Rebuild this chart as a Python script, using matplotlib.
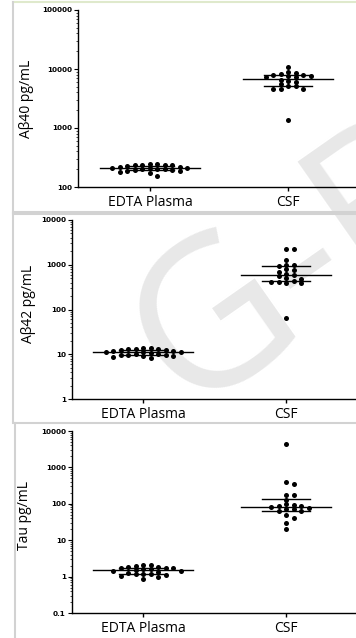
import matplotlib
matplotlib.use('Agg')
import matplotlib.pyplot as plt
from matplotlib.lines import Line2D
import numpy as np

plt.rcParams['font.family'] = ['Open Sans', 'DejaVu Sans']

# 数据
groups = ['EDTA Plasma', 'CSF']

ab40_plasma = [245, 242, 240, 238, 235, 232, 228, 222, 215, 212, 210,
               208, 205, 200, 198, 195, 192, 190, 188, 180, 172, 155]
ab40_csf = [10800, 8900, 8600, 8200, 8000, 7900, 7700, 7500, 7300, 7200,
            6500, 6300, 6100, 5500, 5200, 5100, 4600, 4500, 4500, 1350]

ab42_plasma = [13.8, 13.5, 13.2, 13.0, 12.8, 12.5, 12.2, 12.0, 11.8, 11.5, 11.2,
               11.0, 10.6, 10.3, 10.0, 9.8, 9.6, 9.5, 9.3, 9.1, 8.9, 8.1]
ab42_csf = [2300, 2200, 1250, 1000, 970, 920, 800, 760, 680, 620,
            580, 550, 500, 480, 430, 420, 410, 400, 390, 66]

tau_plasma = [2.1, 2.1, 2.0, 1.8, 1.8, 1.75, 1.7, 1.7, 1.6, 1.6, 1.5,
              1.45, 1.4, 1.3, 1.25, 1.2, 1.2, 1.15, 1.1, 1.05, 1.0, 0.87]
tau_csf = [4300, 390, 340, 180, 170, 125, 97, 95, 88, 86,
           82, 78, 74, 72, 65, 62, 48, 41, 29, 20]

ylabels = ['A\u03b240 pg/mL', 'A\u03b242 pg/mL', 'Tau pg/mL']
yticks = [[100, 1000, 10000, 100000],
          [1, 10, 100, 1000, 10000],
          [0.1, 1, 10, 100, 1000, 10000]]
yticklabels = [['100', '1000', '10000', '100000'],
               ['1', '10', '100', '1000', '10000'],
               ['0.1', '1', '10', '100', '1000', '10000']]
panels = [(ab40_plasma, ab40_csf), (ab42_plasma, ab42_csf), (tau_plasma, tau_csf)]

W, H = 356, 638
fig = plt.figure(figsize=(W / 100, H / 100), dpi=100)

# 坐标轴位置（像素）: 左, 上, 下
boxes = [(78, 10, 187), (72, 220, 399), (72, 431, 613)]
xlims = [(-0.52, 1.49), (-0.5, 1.49), (-0.5, 1.49)]
label_pos = [(-0.158, 0.5), (-0.127, 0.53), (-0.141, 0.533)]


def swarm_offsets(ypix, dx, dy):
    # 类似 GraphPad 的散点排列（像素坐标）
    order = np.argsort(ypix)[::-1]
    placed = []
    offs = np.zeros(len(ypix))
    for i in order:
        y = ypix[i]
        best = None
        for k in range(0, 600):
            for s in (1, -1):
                x = s * k * 0.5
                if all(abs(x - px) >= dx or abs(y - py) >= dy for px, py in placed):
                    best = x
                    break
            if best is not None:
                break
        offs[i] = best
        placed.append((best, y))
    return offs


for p, (plasma, csf) in enumerate(panels):
    left, top, bottom = boxes[p]
    ax = fig.add_axes([left / W, 1 - bottom / H, (W - left) / W, (bottom - top) / H])
    ax.set_facecolor('none')
    ax.set_yscale('log')
    ax.set_ylim(yticks[p][0], yticks[p][-1])
    ax.set_xlim(*xlims[p])
    for s in ['top', 'right']:
        ax.spines[s].set_visible(False)
    for s in ['left', 'bottom']:
        ax.spines[s].set_linewidth(1.0)

    px_per_unit = ax.transData.transform((1, 1))[0] - ax.transData.transform((0, 1))[0]
    for g, vals in enumerate([plasma, csf]):
        vals = np.array(vals, dtype=float)
        ypix = np.array([ax.transData.transform((0, v))[1] for v in vals])
        offs = swarm_offsets(ypix, 7.5, 4.0)
        ax.scatter(g + offs / px_per_unit, vals, s=13, color='black', zorder=3, linewidths=0)
        med = np.median(vals)
        q1, q3 = np.percentile(vals, [25, 75])
        hw = (50 if g == 0 else 45) / px_per_unit
        cw = 24 / px_per_unit
        ax.plot([g - hw, g + hw], [med, med], color='black', lw=1.0, zorder=4)
        ax.plot([g - cw, g + cw], [q1, q1], color='black', lw=1.0, zorder=4)
        ax.plot([g - cw, g + cw], [q3, q3], color='black', lw=1.0, zorder=4)
        ax.plot([g, g], [q1, q3], color='black', lw=1.0, zorder=4)

    ax.set_xticks([0, 1])
    ax.set_xticklabels(groups, fontsize=10)
    ax.tick_params(axis='x', length=3, width=1, pad=3)
    ax.set_yticks(yticks[p])
    ax.set_yticklabels(yticklabels[p], fontsize=5.2, fontweight='bold', family='DejaVu Sans')
    ax.tick_params(axis='y', which='major', length=3, width=0.8, pad=1.5)
    ax.tick_params(axis='y', which='minor', length=1.5, width=0.5)
    ax.set_ylabel(ylabels[p], fontsize=10)
    ax.yaxis.set_label_coords(*label_pos[p])

# 水印
fig.text(299 / W, 1 - 267 / H, 'G-B', rotation=35, fontsize=150, color='#e8e8e8',
         ha='center', va='center', zorder=-1)

# 面板边框
gray = '#d2d2d2'
def hline(y, x0, x1, c=gray, lw=1.5):
    fig.add_artist(Line2D([x0 / W, x1 / W], [1 - y / H, 1 - y / H], color=c, lw=lw, zorder=10))
def vline(x, y0, y1, c=gray, lw=1.5):
    fig.add_artist(Line2D([x / W, x / W], [1 - y0 / H, 1 - y1 / H], color=c, lw=lw, zorder=10))

hline(2, 13, 356, c='#dfe9cc')
vline(13, 2, 212)
hline(212, 13, 356)
hline(214, 13, 356)
vline(13, 214, 421)
hline(423, 13, 356)
vline(15, 423, 638)

fig.savefig('out.png', dpi=100)
